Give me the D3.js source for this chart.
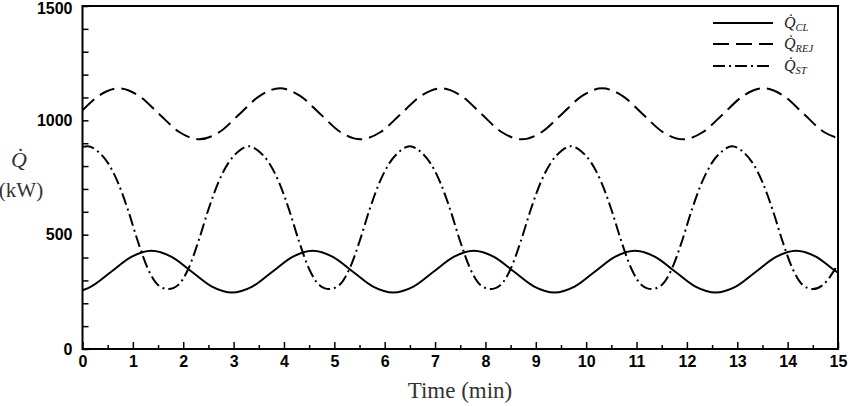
<!DOCTYPE html>
<html>
<head>
<meta charset="utf-8">
<script src="https://cdn.jsdelivr.net/npm/d3@7"></script>
<style>
  body { margin: 0; background: #fff; }
  svg { display: block; }
  .tick text { font-family: "Liberation Sans", Arial, sans-serif; font-weight: bold; font-size: 16px; fill: #000; }
  .serif { font-family: "Liberation Serif", "Times New Roman", serif; }
</style>
</head>
<body>
<svg id="chart" width="851" height="406"></svg>
<script>
// time (min) and heat rates (kW)
const tCL = [0, 0.17, 0.57, 0.97, 1.37, 1.77, 2.17, 2.57, 2.97, 3.37, 3.77, 4.17, 4.57, 4.97,
  5.37, 5.77, 6.17, 6.57, 6.97, 7.37, 7.77, 8.17, 8.57, 8.97, 9.37, 9.77, 10.17, 10.57, 10.97,
  11.37, 11.77, 12.17, 12.57, 12.97, 13.37, 13.77, 14.17, 14.57, 14.97, 15];
const qCL = [257, 273, 338, 403, 430, 403, 338, 273, 247, 273, 338, 403, 430, 403,
  338, 273, 247, 273, 338, 403, 430, 403, 338, 273, 247, 273, 338, 403, 430,
  403, 338, 273, 247, 273, 338, 403, 430, 403, 338, 334];

const tREJ = [0, 0.32, 0.72, 1.12, 1.52, 1.92, 2.32, 2.72, 3.12, 3.52, 3.92, 4.32, 4.72, 5.12,
  5.52, 5.92, 6.32, 6.72, 7.12, 7.52, 7.92, 8.32, 8.72, 9.12, 9.52, 9.92, 10.32, 10.72, 11.12,
  11.52, 11.92, 12.32, 12.72, 13.12, 13.52, 13.92, 14.32, 14.72, 15];
const qREJ = [1044, 1107, 1140, 1107, 1028, 949, 917, 949, 1028, 1107, 1140, 1107, 1028, 949,
  917, 949, 1028, 1107, 1140, 1107, 1028, 949, 917, 949, 1028, 1107, 1140, 1107, 1028,
  949, 917, 949, 1028, 1107, 1140, 1107, 1028, 949, 922];

const tST = [0, 0.1, 0.3, 0.5, 0.7, 0.9, 1.1, 1.3, 1.5, 1.7, 1.9, 2.1, 2.3, 2.5, 2.7, 2.9,
  3.1, 3.3, 3.5, 3.7, 3.9, 4.1, 4.3, 4.5, 4.7, 4.9, 5.1, 5.3, 5.5, 5.7, 5.9, 6.1,
  6.3, 6.5, 6.7, 6.9, 7.1, 7.3, 7.5, 7.7, 7.9, 8.1, 8.3, 8.5, 8.7, 8.9, 9.1, 9.3,
  9.5, 9.7, 9.9, 10.1, 10.3, 10.5, 10.7, 10.9, 11.1, 11.3, 11.5, 11.7, 11.9, 12.1,
  12.3, 12.5, 12.7, 12.9, 13.1, 13.3, 13.5, 13.7, 13.9, 14.1, 14.3, 14.5, 14.7, 14.9, 15];
const qST = [884, 887, 865, 815, 730, 610, 470, 350, 280, 262, 280, 350, 470, 610, 730, 815,
  865, 887, 865, 815, 730, 610, 470, 350, 280, 262, 280, 350, 470, 610, 730, 815,
  865, 887, 865, 815, 730, 610, 470, 350, 280, 262, 280, 350, 470, 610, 730, 815,
  865, 887, 865, 815, 730, 610, 470, 350, 280, 262, 280, 350, 470, 610, 730, 815,
  865, 887, 865, 815, 730, 610, 470, 350, 280, 262, 280, 335, 372];

const xTicks = d3.range(0, 16);
const yLabelTicks = [0, 500, 1000, 1500];

const series = [
  { key: 'CL', t: tCL, q: qCL, dash: null, sub: 'CL' },
  { key: 'REJ', t: tREJ, q: qREJ, dash: '16,7', sub: 'REJ' },
  { key: 'ST', t: tST, q: qST, dash: '12,4,2,4', sub: 'ST' }
];

const svg = d3.select('#chart');
const x = d3.scaleLinear().domain([0, 15]).range([82.5, 838]);
const y = d3.scaleLinear().domain([0, 1500]).range([349, 6]);

// ── curves ──────────────────────────────
const line = d3.line().curve(d3.curveMonotoneX);
series.forEach(s => {
  svg.append('path')
    .attr('d', line(s.t.map((t, i) => [x(t), y(s.q[i])])))
    .attr('fill', 'none')
    .attr('stroke', '#000')
    .attr('stroke-width', 2)
    .attr('stroke-dasharray', s.dash);
});

// ── axes (ticks point inward) ───────────
const xMinor = svg.append('g').attr('transform', `translate(0,${y(0)})`)
  .call(d3.axisBottom(x).tickValues(d3.range(0.5, 15, 1)).tickSize(-4).tickFormat(''));
const xAxis = svg.append('g').attr('transform', `translate(0,${y(0)})`)
  .call(d3.axisBottom(x).tickValues(xTicks).tickSize(-7).tickPadding(7).tickFormat(d3.format('d')));
const yAxis = svg.append('g').attr('transform', `translate(${x(0)},0)`)
  .call(d3.axisLeft(y).tickValues(d3.range(0, 1501, 100)).tickSize(-6).tickPadding(10)
    .tickFormat(d => yLabelTicks.includes(d) ? d : ''));
[xMinor, xAxis, yAxis].forEach(a => {
  a.select('.domain').remove();
  a.selectAll('.tick line').attr('stroke', '#000').attr('stroke-width', 1.5);
});
// top label sits at the very edge, nudge it in a touch
yAxis.selectAll('.tick text').filter(d => d === 1500).attr('dy', '0.45em');

// frame
svg.append('rect')
  .attr('x', x(0)).attr('y', y(1500))
  .attr('width', x(15) - x(0)).attr('height', y(0) - y(1500))
  .attr('fill', 'none').attr('stroke', '#000').attr('stroke-width', 2);

// axis titles
svg.append('text').attr('class', 'serif')
  .attr('x', 460).attr('y', 398).attr('text-anchor', 'middle')
  .attr('font-size', 23).attr('fill', '#333').text('Time (min)');
svg.append('text').attr('class', 'serif')
  .attr('x', 19).attr('y', 167).attr('text-anchor', 'middle')
  .attr('font-size', 22).attr('font-style', 'italic').attr('fill', '#333').text('Q\u0307');
svg.append('text').attr('class', 'serif')
  .attr('x', 21).attr('y', 197).attr('text-anchor', 'middle')
  .attr('font-size', 21).attr('fill', '#333').text('(kW)');

// ── legend ──────────────────────────────
const legendY = [23, 44, 66];
const lg = svg.append('g');
series.forEach((s, i) => {
  lg.append('line')
    .attr('x1', 713).attr('x2', 773)
    .attr('y1', legendY[i]).attr('y2', legendY[i])
    .attr('stroke', '#000').attr('stroke-width', 2)
    .attr('stroke-dasharray', s.dash);
  const txt = lg.append('text').attr('class', 'serif')
    .attr('x', 784).attr('y', legendY[i] + 5)
    .attr('font-size', 16).attr('font-style', 'italic').attr('fill', '#222');
  txt.append('tspan').text('Q\u0307');
  txt.append('tspan').attr('dy', 3).attr('font-size', 10.5).text(s.sub);
});
</script>
</body>
</html>
